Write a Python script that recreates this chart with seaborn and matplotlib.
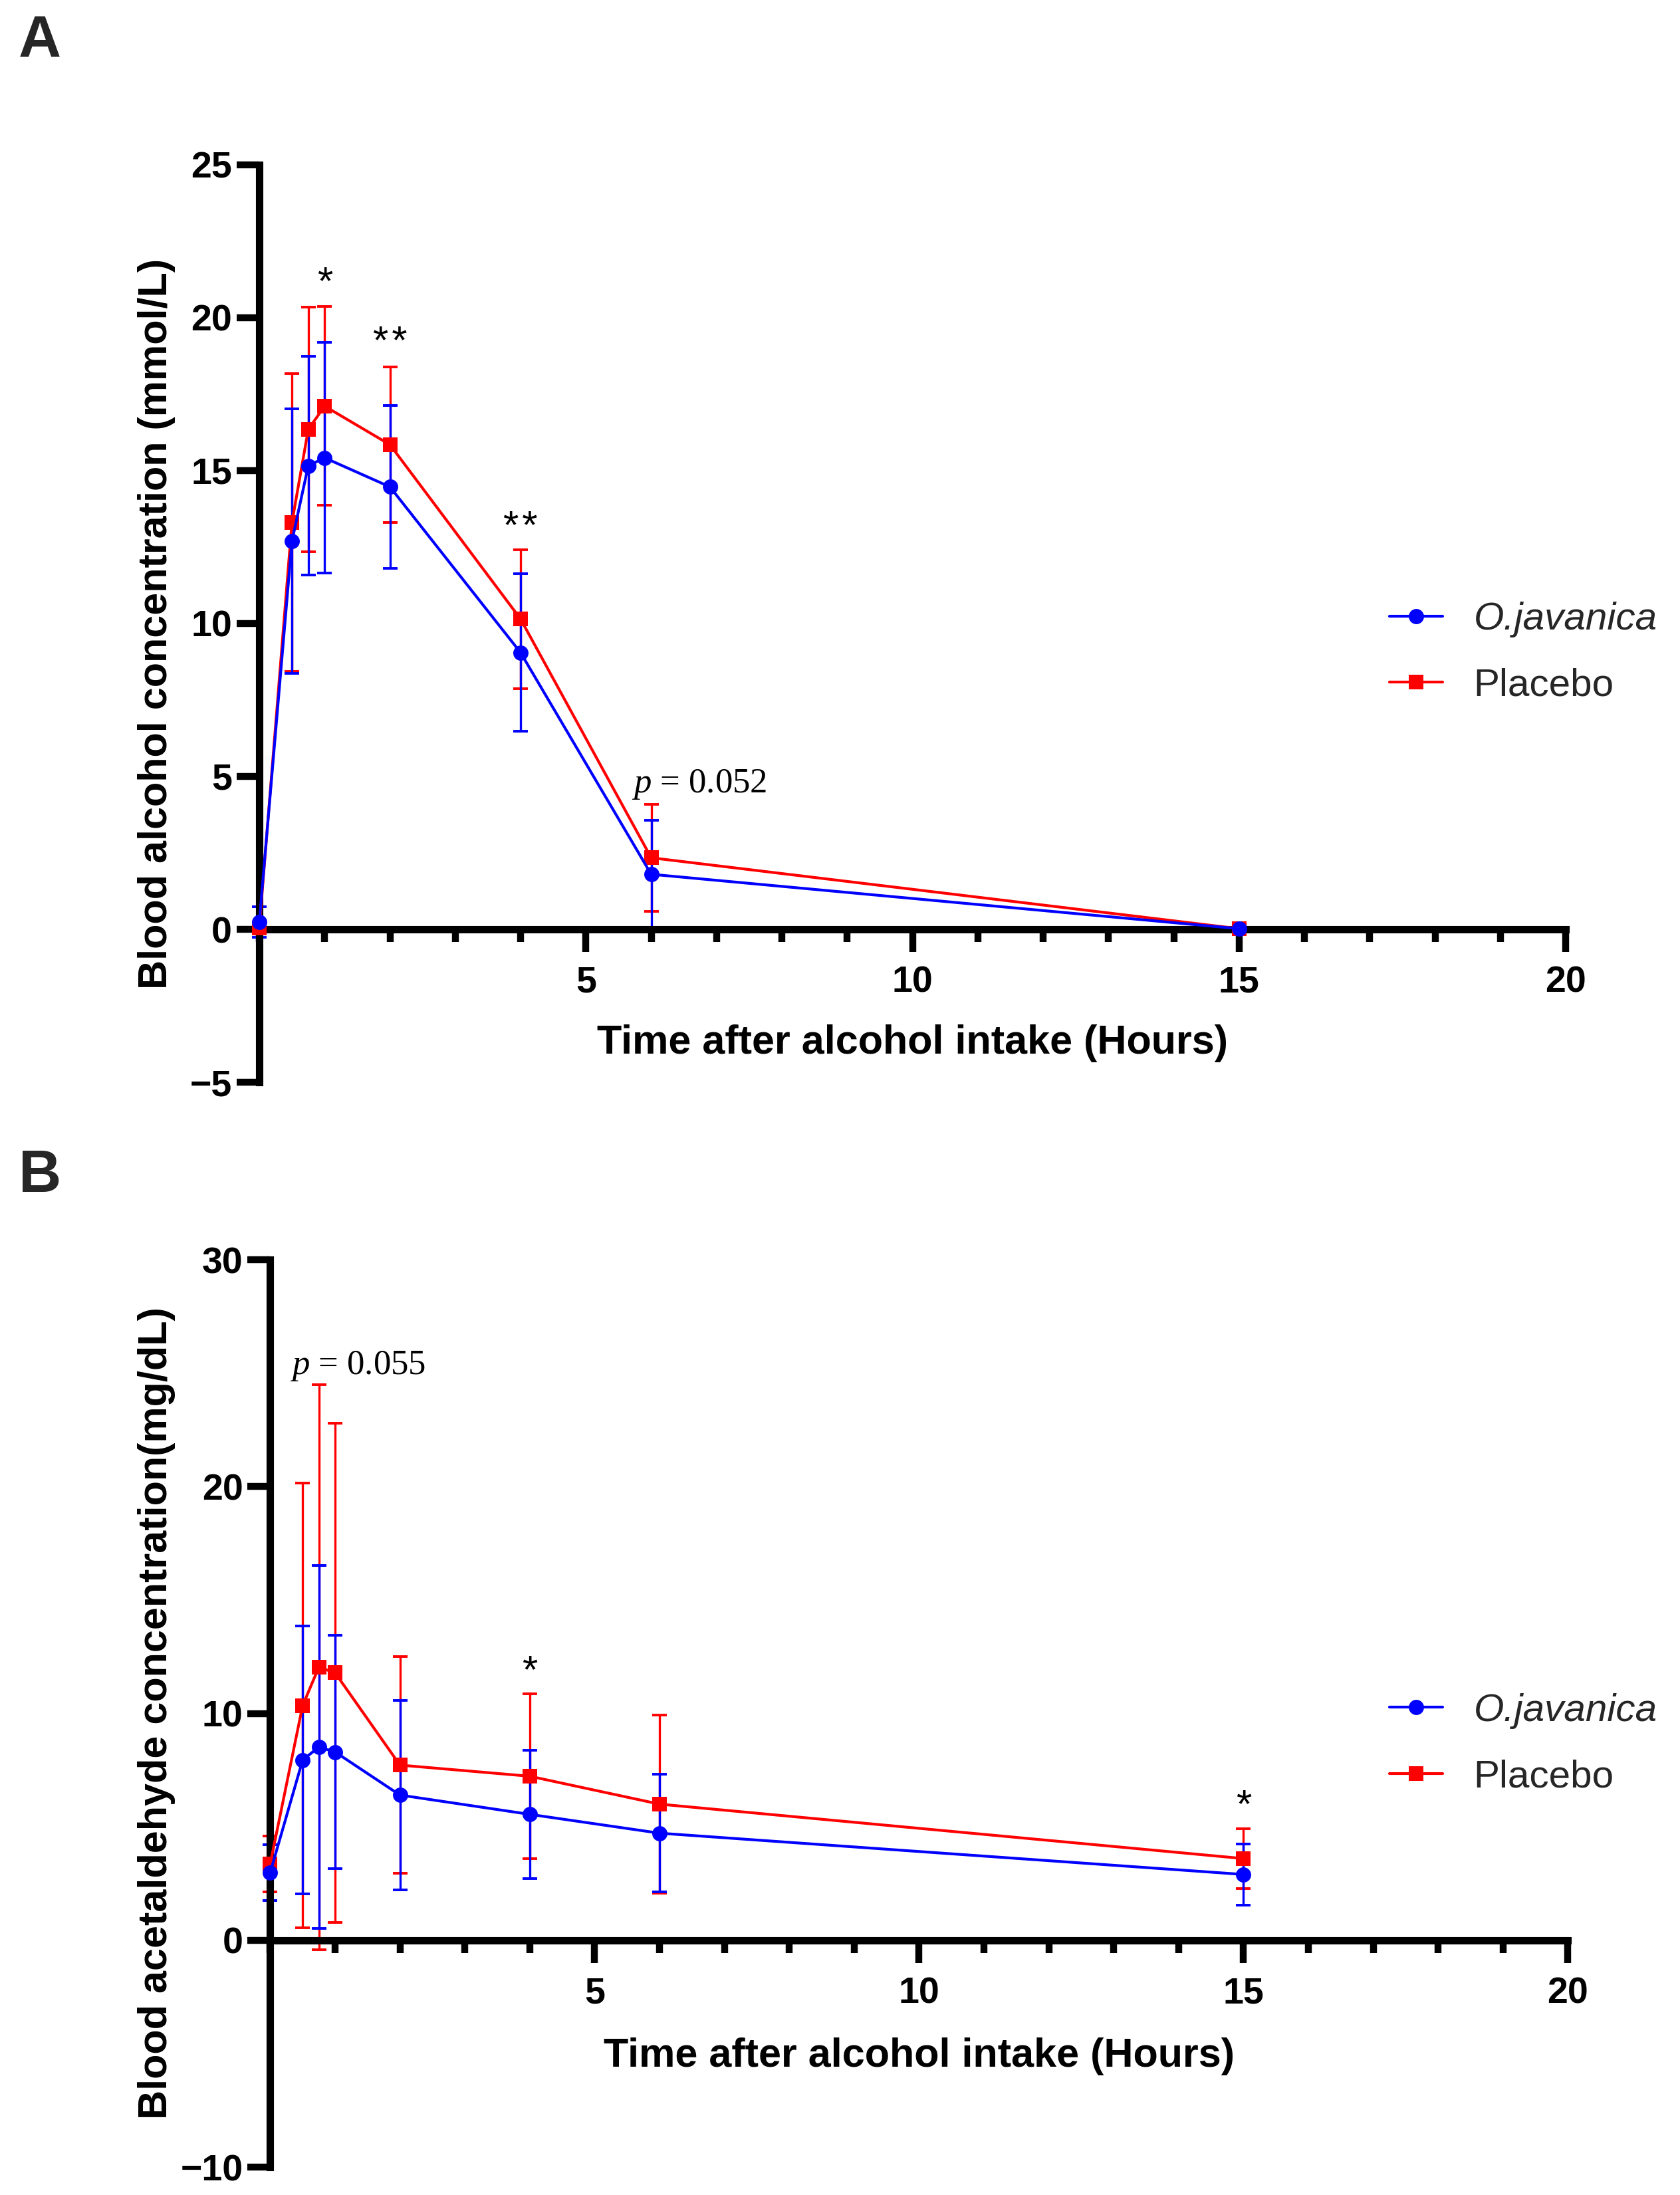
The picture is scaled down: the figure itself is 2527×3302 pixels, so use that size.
import numpy as np
import pandas as pd
import matplotlib
matplotlib.use("Agg")
import matplotlib.pyplot as plt
from matplotlib.ticker import MultipleLocator
import seaborn as sns

# ---------------- data ----------------
time_h = [0, 0.5, 0.75, 1, 2, 4, 6, 15]
groups = ["O.javanica", "Placebo"]

bac_oj_mean = [0.23, 12.69, 15.16, 15.42, 14.47, 9.05, 1.80, 0.02]
bac_oj_sd = [0.50, 4.33, 3.57, 3.77, 2.66, 2.58, 1.76, 0.05]
bac_pl_mean = [0.05, 13.30, 16.35, 17.11, 15.85, 10.15, 2.34, 0.02]
bac_pl_sd = [0.10, 4.87, 4.00, 3.25, 2.55, 2.27, 1.75, 0.05]

acet_oj_mean = [2.98, 7.94, 8.52, 8.30, 6.40, 5.55, 4.72, 2.90]
acet_oj_sd = [1.23, 5.90, 8.00, 5.15, 4.17, 2.83, 2.60, 1.34]
acet_pl_mean = [3.36, 10.34, 12.04, 11.79, 7.72, 7.23, 6.00, 3.60]
acet_pl_sd = [1.23, 9.80, 12.45, 11.00, 4.78, 3.62, 3.92, 1.32]

xticks = [5, 10, 15, 20]
yticks_a = [-5, 0, 5, 10, 15, 20, 25]
yticks_b = [-10, 0, 10, 20, 30]

sig_a_x = [1, 2, 4]
sig_a_y = [21.46, 19.5, 13.45]
sig_a_txt = ["*", "*\u200a*", "*\u200a*"]
p_a = ("0.052", 5.70, 4.47)

sig_b_x = [4, 15]
sig_b_y = [12.26, 6.35]
sig_b_txt = ["*", "*"]
p_b = ("0.055", 0.30, 24.95)

ylabel_a = "Blood alcohol concentration (mmol/L)"
ylabel_b = "Blood acetaldehyde concentration(mg/dL)"
xlabel = "Time after alcohol intake (Hours)"


def make_df(oj_m, oj_s, pl_m, pl_s):
    rows = []
    for g, m, s in [("O.javanica", oj_m, oj_s), ("Placebo", pl_m, pl_s)]:
        for t, mm, ss in zip(time_h, m, s):
            rows.append({"time": t, "group": g, "mean": mm, "sd": ss})
    return pd.DataFrame(rows)


df_a = make_df(bac_oj_mean, bac_oj_sd, bac_pl_mean, bac_pl_sd)
df_b = make_df(acet_oj_mean, acet_oj_sd, acet_pl_mean, acet_pl_sd)

# ---------------- style ----------------
sns.set_style("ticks")
plt.rcParams["font.family"] = ["Liberation Sans", "DejaVu Sans"]
plt.rcParams["mathtext.fontset"] = "custom"
plt.rcParams["mathtext.it"] = "Liberation Serif:italic"
plt.rcParams["mathtext.rm"] = "Liberation Serif"
plt.rcParams["axes.unicode_minus"] = True
plt.rcParams["xtick.bottom"] = True
plt.rcParams["ytick.left"] = True

BLUE = "#0000FF"
RED = "#FF0000"
colors = {"O.javanica": BLUE, "Placebo": RED}
markers = {"O.javanica": "o", "Placebo": "s"}

W, H = 2527, 3302
fig = plt.figure(figsize=(W / 100, H / 100), dpi=100)

ax_a = fig.add_axes([390 / W, (H - 1628) / H, 1965 / W, 1380 / H])
ax_b = fig.add_axes([406.4 / W, (H - 3260) / H, 1952 / W, 1365 / H])


def draw_panel(ax, df, ylim, yticks, sigx, sigy, sigt, ptxt, ylab, ylab_x, xlab_y, leg_y):
    handles = {}
    for i, g in enumerate(["Placebo", "O.javanica"]):
        sub = df[df["group"] == g]
        eb = ax.errorbar(sub["time"], sub["mean"], yerr=sub["sd"], fmt="none",
                         ecolor=colors[g], elinewidth=2.4, capsize=8, capthick=2.8,
                         zorder=2 + 0.1 * i)
        for child in eb.get_children():
            child.set_clip_on(False)
        sns.lineplot(data=sub, x="time", y="mean", color=colors[g], marker=markers[g],
                     markersize=16.5, markeredgewidth=0, markeredgecolor=colors[g],
                     linewidth=3, label=g, ax=ax, errorbar=None,
                     zorder=3 + 0.1 * i, clip_on=False)
    hs, ls = ax.get_legend_handles_labels()
    for h, l in zip(hs, ls):
        handles[l] = h
    if ax.get_legend() is not None:
        ax.get_legend().remove()

    ax.set_xlim(0, 20)
    ax.set_ylim(*ylim)
    ax.set_xticks(xticks, labels=[str(t) for t in xticks])
    ax.xaxis.set_minor_locator(MultipleLocator(1))
    ax.set_yticks(yticks, labels=[str(t).replace("-", "\u2212") for t in yticks])
    for s in ["top", "right"]:
        ax.spines[s].set_visible(False)
    for s in ["left", "bottom"]:
        ax.spines[s].set_visible(True)
        ax.spines[s].set_linewidth(8)
        ax.spines[s].set_color("black")
    ax.spines["bottom"].set_position(("data", 0))
    ax.tick_params(axis="both", which="major", length=24.5, width=7.5, direction="out",
                   color="black", labelsize=40, labelcolor="black",
                   bottom=True, left=True, top=False, right=False)
    ax.tick_params(axis="x", which="major", pad=15)
    ax.tick_params(axis="y", which="major", pad=5)
    ax.tick_params(axis="x", which="minor", length=14, width=7.5, direction="out",
                   color="black", bottom=True, top=False)
    ax.tick_params(axis="y", which="minor", left=False, right=False)

    ax.set_ylabel(ylab, fontsize=44, fontweight="bold", color="black")
    ax.yaxis.set_label_coords(ylab_x, 0.5)
    ax.set_xlabel(xlabel, fontsize=44, fontweight="bold", color="black")
    ax.xaxis.set_label_coords(0.5, xlab_y)

    for x, y, t in zip(sigx, sigy, sigt):
        ax.annotate(t, xy=(x, y), xytext=(0, -31), textcoords="offset pixels",
                    ha="center", va="baseline", fontsize=43, color="black")
    ax.text(ptxt[1], ptxt[2], "$p$ = " + ptxt[0], fontsize=38,
            family="Liberation Serif", ha="left", va="baseline", color="black")

    leg = ax.legend(handles=[handles["O.javanica"], handles["Placebo"]],
                    labels=["O.javanica", "Placebo"], loc="center left",
                    bbox_to_anchor=(2090 / W, leg_y), bbox_transform=fig.transFigure,
                    frameon=False, fontsize=42, handlelength=1.37, handletextpad=0.8,
                    labelspacing=0.78, borderpad=0, borderaxespad=0)
    leg.get_texts()[0].set_fontstyle("italic")
    ax.set_facecolor("white")


draw_panel(ax_a, df_a, (-5, 25), yticks_a, sig_a_x, sig_a_y, sig_a_txt, p_a,
           ylabel_a, -0.0641, 0.063, (H - 982) / H)
draw_panel(ax_b, df_b, (-10, 30), yticks_b, sig_b_x, sig_b_y, sig_b_txt, p_b,
           ylabel_b, -0.0730, 0.143, (H - 2623.5) / H)

fig.text(28 / W, 1 - 86 / H, "A", fontsize=64, fontweight="bold", va="baseline", ha="left")
fig.text(28 / W, 1 - 1793 / H, "B", fontsize=64, fontweight="bold", va="baseline", ha="left")

fig.canvas.draw()
for ax in (ax_a, ax_b):
    for lbl in ax.get_xticklabels() + ax.get_yticklabels():
        lbl.set_fontweight("bold")

fig.savefig("out.png", dpi=100, facecolor="white")
